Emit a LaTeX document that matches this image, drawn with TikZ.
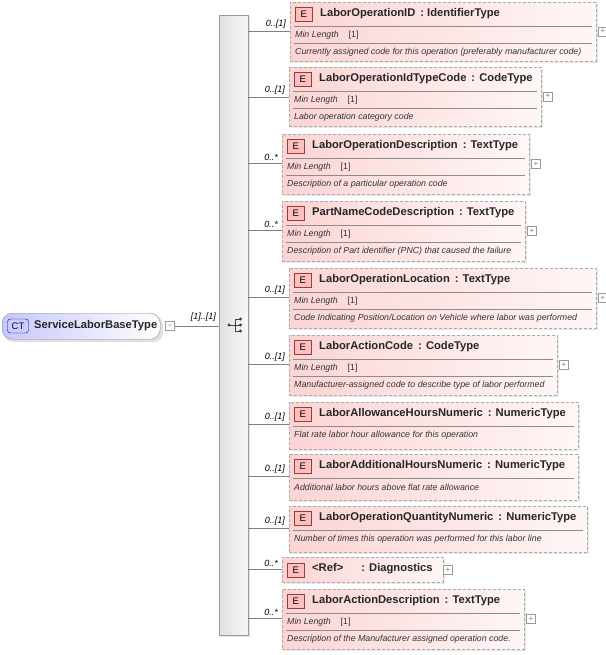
\documentclass[tikz,border=0pt]{standalone}
\usepackage{fontspec}
\setmainfont{Liberation Sans}
\usetikzlibrary{calc}
\definecolor{pinkL}{RGB}{252,212,212}
\definecolor{pinkR}{RGB}{255,246,246}
\definecolor{bordG}{RGB}{170,170,170}
\definecolor{badgeB}{RGB}{150,60,60}
\tikzset{
  ebox/.style={draw=bordG,dashed,dash pattern=on 3pt off 2pt,left color=pinkL,right color=pinkR,inner sep=0pt},
  eshadow/.style={fill=black!9,draw=none},
  badge/.style={draw=badgeB,fill=red!25,minimum width=17pt,minimum height=14pt,inner sep=0pt,font=\fontsize{9.5}{10}\selectfont},
  etitle/.style={font=\fontsize{11.2}{13}\selectfont\bfseries,inner sep=0pt,anchor=west,text=black!85},
  sepline/.style={draw=black!45,line width=0.5pt},
  smalltxt/.style={font=\fontsize{8.8}{10}\selectfont\itshape,inner sep=0pt,anchor=west,text=black!80},
  card/.style={font=\fontsize{9}{10}\selectfont\itshape,inner sep=0pt,anchor=south east},
  pm/.style={draw=black!40,fill=white,minimum size=9pt,inner sep=0pt,font=\fontsize{8}{8}\selectfont,text=black!50},
  conn/.style={draw=black!50,line width=0.5pt}
}
\newcommand{\EBoxL}[9]{%
  \fill[eshadow] (#2+2,#3+2) rectangle (#4+2,#5+2);
  \node[ebox,anchor=north west,minimum width={#4pt-#2pt},minimum height={#5pt-#3pt}] (#1) at (#2,#3) {};
  \node[badge,anchor=north west] (#1b) at (#2+5,#3+5) {E};
  \node[etitle] (#1t) at (#2+30,#3+12) {#6};
  \draw[sepline] (#2+4,#3+24) -- (#4-4,#3+24);
  \node[smalltxt] (#1m) at (#2+5,#3+33) {Min Length\hspace{10pt}\upshape[1]};
  \draw[sepline] (#2+4,#3+41) -- (#4-4,#3+41);
  \node[smalltxt] (#1d) at (#2+5,#3+50) {#7};
  \node[pm] (#1p) at (#4+7,{(#3+#5)/2}) {+};
  \coordinate (#1c) at (#2,#3+#9);
  \draw[conn] (seq.east |- #1c) -- (#1c);
  \node[card] at ($(#1c)+(-4,-2)$) {#8};
}
\newcommand{\EBoxS}[9]{%
  \fill[eshadow] (#2+2,#3+2) rectangle (#4+2,#5+2);
  \node[ebox,anchor=north west,minimum width={#4pt-#2pt},minimum height={#5pt-#3pt}] (#1) at (#2,#3) {};
  \node[badge,anchor=north west] (#1b) at (#2+5,#3+5) {E};
  \node[etitle] (#1t) at (#2+30,#3+12) {#6};
  \draw[sepline] (#2+4,#3+24) -- (#4-4,#3+24);
  \node[smalltxt] (#1d) at (#2+5,#3+33) {#7};
  \coordinate (#1c) at (#2,#3+#9);
  \draw[conn] (seq.east |- #1c) -- (#1c);
  \node[card] at ($(#1c)+(-4,-2)$) {#8};
}
\begin{document}
\begin{tikzpicture}[x=1pt,y=-1pt]
\useasboundingbox (0,0) rectangle (605,655);
\fill[black!10] (221,17) rectangle (250,637);
\node[draw=black!40,left color=black!12,right color=black!3,anchor=north west,minimum width=29pt,minimum height=620pt,inner sep=0pt] (seq) at (219,15) {};
\fill[black!75] (229,325) circle (1.6);
\draw[black!75,line width=0.8pt] (229,325) -- (235,325) (235,319) -- (235,331) (235,319) -- (240,319) (235,325) -- (240,325) (235,331) -- (240,331);
\fill[black!75] (240.5,319) circle (1.7) (240.5,325) circle (1.7) (240.5,331) circle (1.7);
\fill[black!12,rounded corners=9pt] (4,316) rectangle (163,342);
\node[draw=black!45,rounded corners=10pt,left color=blue!22,right color=white,anchor=north west,minimum width=158pt,minimum height=26pt,inner sep=0pt] (ct) at (2,313) {};
\node[draw=blue!50!black,fill=blue!20,rounded corners=3pt,minimum width=21pt,minimum height=14pt,inner sep=0pt,font=\fontsize{9.5}{10}\selectfont,text=blue!40!black] (ctb) at (18,326) {CT};
\node[etitle] (ctt) at (34,326) {ServiceLaborBaseType};
\node[pm] (ctm) at (170,326) {--};
\draw[conn] (ctm.east) -- (seq.west |- ctm.east);
\node[card] at (216,322) {[1]..[1]};
\EBoxL{e1}{290}{2}{596}{61}{LaborOperationID \,: IdentifierType}{Currently assigned code for this operation (preferably manufacturer code)}{0..[1]}{29}
\EBoxL{e2}{289}{67}{541}{126}{LaborOperationIdTypeCode \,: CodeType}{Labor operation category code}{0..[1]}{30}
\EBoxL{e3}{282}{134}{529}{194}{LaborOperationDescription \,: TextType}{Description of a particular operation code}{0..*}{29}
\EBoxL{e4}{282}{201}{525}{261}{PartNameCodeDescription \,: TextType}{Description of Part identifier (PNC) that caused the failure}{0..*}{29}
\EBoxL{e5}{289}{268}{596}{328}{LaborOperationLocation \,: TextType}{Code Indicating Position/Location on Vehicle where labor was performed}{0..[1]}{29}
\EBoxL{e6}{289}{335}{557}{395}{LaborActionCode \,: CodeType}{Manufacturer-assigned code to describe type of labor performed}{0..[1]}{29}
\EBoxS{e7}{289}{402}{578}{449}{LaborAllowanceHoursNumeric \,: NumericType}{Flat rate labor hour allowance for this operation}{0..[1]}{22}
\EBoxS{e8}{289}{454}{578}{500}{LaborAdditionalHoursNumeric \,: NumericType}{Additional labor hours above flat rate allowance}{0..[1]}{22}
\EBoxS{e9}{289}{506}{587}{552}{LaborOperationQuantityNumeric \,: NumericType}{Number of times this operation was performed for this labor line}{0..[1]}{22}
\fill[eshadow] (284,559) rectangle (445,584);
\node[ebox,anchor=north west,minimum width=161pt,minimum height=25pt] (e10) at (282,557) {};
\node[badge,anchor=north west] (e10b) at (287,563) {E};
\node[etitle] (e10t) at (312,569) {<Ref>\hspace{18pt}: Diagnostics};
\node[pm] (e10p) at (448,570) {+};
\coordinate (e10c) at (282,569);
\draw[conn] (seq.east |- e10c) -- (e10c);
\node[card] at ($(e10c)+(-4,-2)$) {0..*};
\EBoxL{e11}{282}{589}{524}{649}{LaborActionDescription \,: TextType}{Description of the Manufacturer assigned operation code.}{0..*}{29}
\end{tikzpicture}
\end{document}
